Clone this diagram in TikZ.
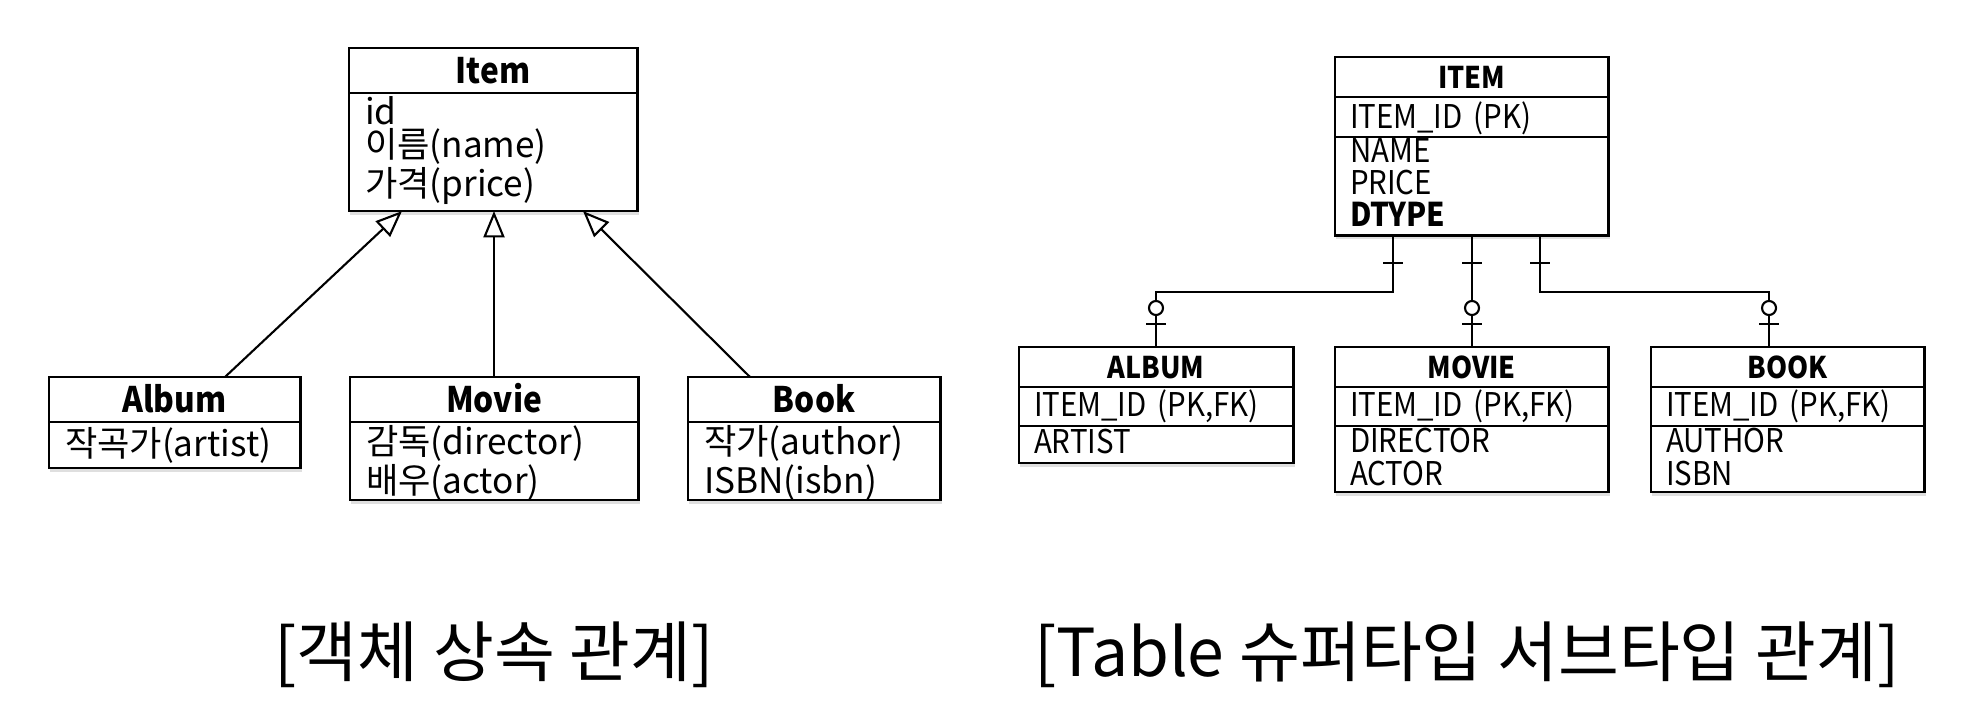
\documentclass[tikz,border=0pt]{standalone}
\usepackage{fontspec}
\setmainfont{Noto Sans CJK KR}
\newfontfamily\boxfont{Noto Sans CJK KR}[FakeStretch=0.9]
\usepackage{tikz}
\usetikzlibrary{arrows.meta}
\usetikzlibrary{calc,shadows,positioning}

\begin{document}
\begin{tikzpicture}[x=0.01cm,y=-0.01cm]
  \tikzset{box/.style = {draw,line width=0.8pt,fill=white,inner sep=0pt,outer sep=0pt,anchor=north west,
      drop shadow={shadow xshift=0.4pt,shadow yshift=-1.2pt,opacity=0.25}}}
  \tikzset{lname/.style = {box,font=\boxfont\bfseries\fontsize{10}{10}\selectfont,text height=0.26cm,text depth=0pt,minimum height=0.45cm}}
  \tikzset{lattr/.style = {box,align=left,inner xsep=0.16cm,font=\fontsize{10}{8.25}\selectfont}}
  \tikzset{rname/.style = {box,font=\boxfont\bfseries\fontsize{8.5}{8.5}\selectfont,text height=0.22cm,text depth=0pt,minimum height=0.40cm}}
  \tikzset{rattr/.style = {box,align=left,inner xsep=0.15cm,font=\boxfont\fontsize{9.3}{9.1}\selectfont}}
  \tikzset{inherit/.style = {line width=0.6pt,-{Triangle[open,length=7.5pt,width=6pt]}}}
  \tikzset{relation/.style = {line width=0.6pt}}
  \tikzset{caption/.style = {font=\fontsize{18.8}{18.8}\selectfont}}

  \useasboundingbox (0,0) rectangle (1964,728);

  % object model
  \node[lname,minimum width=2.88cm] (itemname) at (349,48) {Item};
  \node[lattr,text width=2.56cm,text height=0.31cm,text depth=0.87cm] (itemattr) at (itemname.south west)
    {id\\이름(name)\\가격(price)};

  \node[lname,minimum width=2.51cm] (albumname) at (49,377) {Album};
  \node[lattr,text width=2.19cm,text height=0.34cm,text depth=0.12cm] (albumattr) at (albumname.south west)
    {작곡가(artist)};

  \node[lname,minimum width=2.88cm] (moviename) at (350,377) {Movie};
  \node[lattr,text width=2.56cm,text height=0.32cm,text depth=0.46cm,font=\fontsize{10}{9.4}\selectfont] (movieattr) at (moviename.south west)
    {감독(director)\\배우(actor)};

  \node[lname,minimum width=2.52cm] (bookname) at (688,377) {Book};
  \node[lattr,text width=2.20cm,text height=0.32cm,text depth=0.46cm,font=\fontsize{10}{9.4}\selectfont] (bookattr) at (bookname.south west)
    {작가(author)\\ISBN(isbn)};

  \foreach \sub/\dx/\px in {albumname/176/53,moviename/144/145,bookname/62/234}
    \draw[inherit] ($(\sub.north west)+(\dx,0)$) -- ($(itemattr.south west)+(\px,0)$);

  % tables
  \node[rname,minimum width=2.73cm] (ITEMname) at (1335,57) {ITEM};
  \node[rattr,text width=2.43cm,text height=0.31cm,text depth=0.09cm] (ITEMkey) at (ITEMname.south west)
    {ITEM\_ID (PK)};
  \node[rattr,text width=2.43cm,text height=0.25cm,text depth=0.73cm,font=\boxfont\fontsize{9.3}{9.2}\selectfont] (ITEMattr) at (ITEMkey.south west)
    {NAME\\PRICE\\\textbf{DTYPE}};

  \node[rname,minimum width=2.74cm] (ALBUMname) at (1019,347) {ALBUM};
  \node[rattr,text width=2.44cm,text height=0.29cm,text depth=0.10cm] (ALBUMkey) at (ALBUMname.south west)
    {ITEM\_ID (PK,FK)};
  \node[rattr,text width=2.44cm,text height=0.27cm,text depth=0.10cm] (ALBUMattr) at (ALBUMkey.south west)
    {ARTIST};

  \node[rname,minimum width=2.73cm] (MOVIEname) at (1335,347) {MOVIE};
  \node[rattr,text width=2.43cm,text height=0.29cm,text depth=0.10cm] (MOVIEkey) at (MOVIEname.south west)
    {ITEM\_ID (PK,FK)};
  \node[rattr,text width=2.43cm,text height=0.26cm,text depth=0.40cm,font=\boxfont\fontsize{9.3}{9.4}\selectfont] (MOVIEattr) at (MOVIEkey.south west)
    {DIRECTOR\\ACTOR};

  \node[rname,minimum width=2.73cm] (BOOKname) at (1651,347) {BOOK};
  \node[rattr,text width=2.43cm,text height=0.29cm,text depth=0.10cm] (BOOKkey) at (BOOKname.south west)
    {ITEM\_ID (PK,FK)};
  \node[rattr,text width=2.43cm,text height=0.26cm,text depth=0.40cm,font=\boxfont\fontsize{9.3}{9.4}\selectfont] (BOOKattr) at (BOOKkey.south west)
    {AUTHOR\\ISBN};

  \foreach \sub/\dx/\px in {ALBUMname/137/58,MOVIEname/137/137,BOOKname/118/205}{
    \coordinate (p) at ($(ITEMattr.south west)+(\px,0)$);
    \coordinate (c) at ($(\sub.north west)+(\dx,0)$);
    \draw[relation] (p) -- ++(0,57) -| (c);
    \draw[relation] ($(p)+(-10,28)$) -- ++(20,0);
    \draw[relation] ($(c)+(-10,-23)$) -- ++(20,0);
    \draw[relation,fill=white] ($(c)+(0,-39)$) circle[radius=7];
  }

  \node[caption] (objcap) at (494,655) {[객체 상속 관계]};
  \node[caption] (tblcap) at (1467,655) {[Table 슈퍼타입 서브타입 관계]};
\end{tikzpicture}
\end{document}
